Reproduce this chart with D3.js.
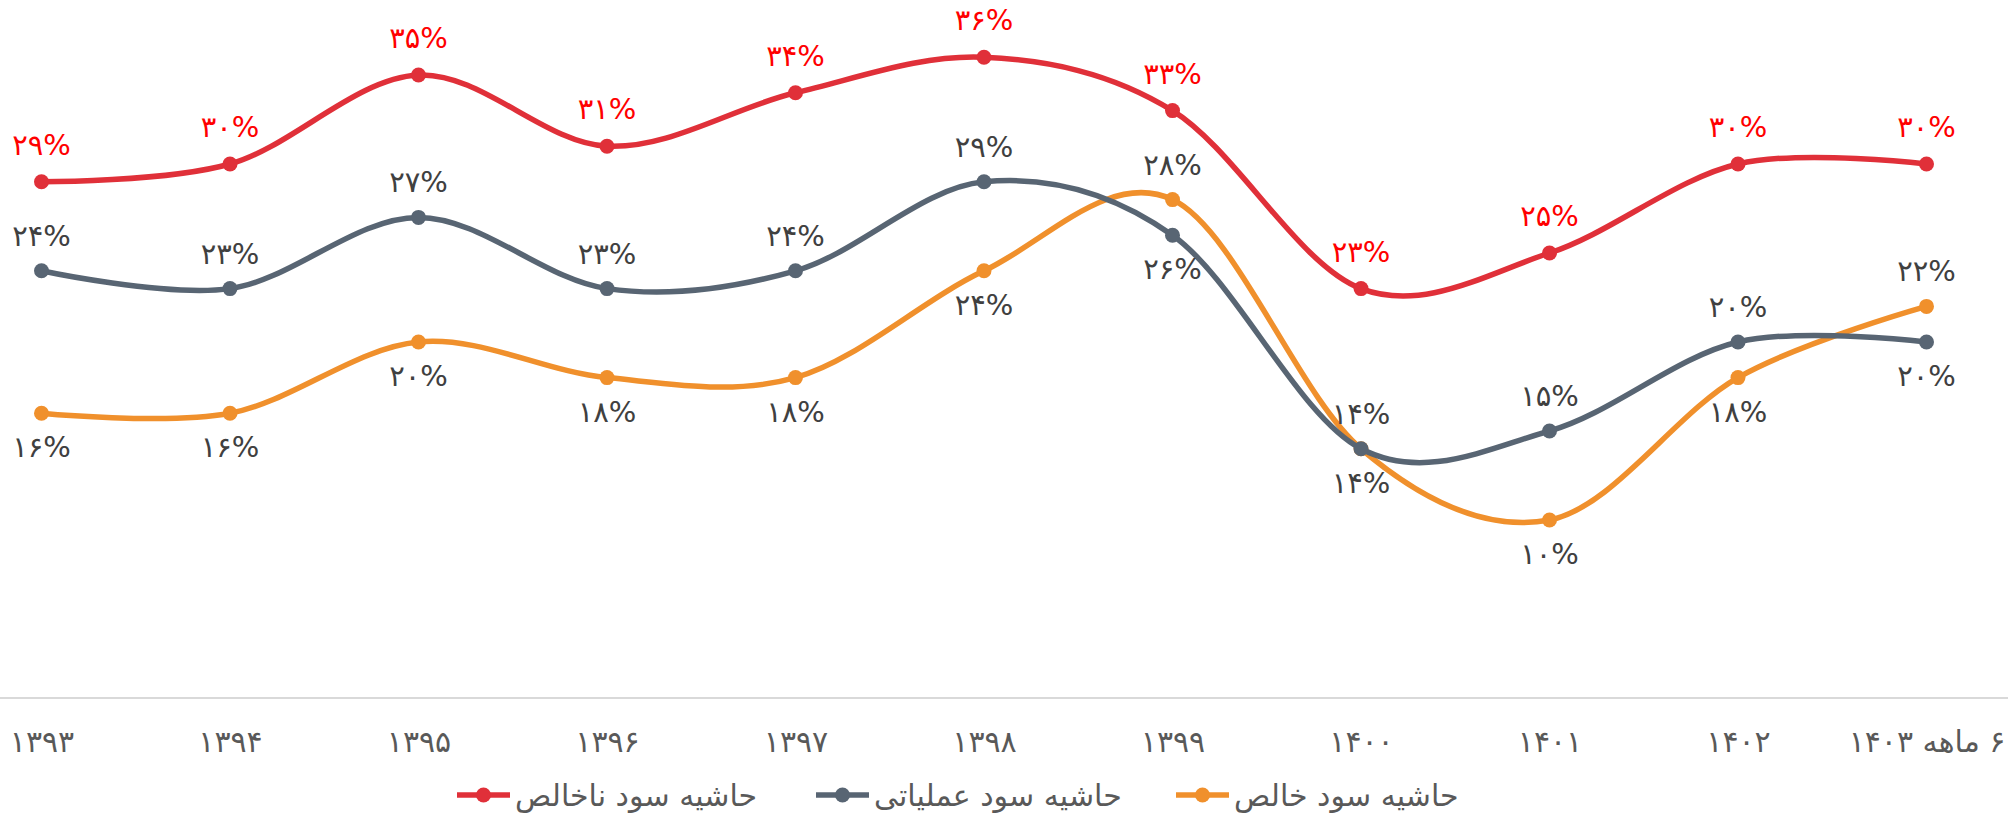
<!DOCTYPE html>
<html><head><meta charset="utf-8">
<script src="https://cdn.jsdelivr.net/npm/d3@7"></script>
<style>
html,body{margin:0;padding:0;background:#fff;}
svg{display:block;font-family:"DejaVu Sans",sans-serif;}
</style></head>
<body><svg id="c" width="2008" height="814"></svg>
<script>
const categories = ["۱۳۹۳","۱۳۹۴","۱۳۹۵","۱۳۹۶","۱۳۹۷","۱۳۹۸","۱۳۹۹","۱۴۰۰","۱۴۰۱","۱۴۰۲","۶ ماهه ۱۴۰۳"];
const grossMargin = [29,30,35,31,34,36,33,23,25,30,30];
const operatingMargin = [24,23,27,23,24,29,26,14,15,20,20];
const netMargin = [16,16,20,18,18,24,28,14,10,18,22];
const seriesNames = ["حاشیه سود ناخالص","حاشیه سود عملیاتی","حاشیه سود خالص"];

// label placement (presentation only)
const grossPos = ["a","a","a","a","a","a","a","a","a","a","a"];
const operPos  = ["a","a","a","a","a","a","b","a","a","a","b"];
const netPos   = ["b","b","b","b","b","b","a","b","b","b","a"];

const fa = n => String(n).replace(/\d/g, d => "۰۱۲۳۴۵۶۷۸۹"[d]) + "%";

const svg = d3.select("#c");
const x = d3.scalePoint().domain(categories).range([41.5, 1926.5]);
const y = d3.scaleLinear().domain([0, 40]).range([698, -14]);

svg.append("line").attr("x1",0).attr("x2",2008).attr("y1",698).attr("y2",698)
  .attr("stroke","#d9d9d9").attr("stroke-width",2);

const xAxis = d3.axisBottom(x).tickSize(0).tickPadding(0);
const gx = svg.append("g").attr("transform","translate(0,741)").call(xAxis);
gx.select(".domain").remove();
gx.selectAll("text").attr("font-size",30).attr("fill","#595959")
  .attr("font-family","DejaVu Sans, sans-serif").attr("dy","0.35em")
  .attr("direction","rtl").attr("text-anchor","middle");

const series = [
  {name: seriesNames[0], values: grossMargin, color:"#e03039", label:"#ff0000", pos: grossPos},
  {name: seriesNames[1], values: operatingMargin, color:"#586573", label:"#404040", pos: operPos},
  {name: seriesNames[2], values: netMargin, color:"#f0902c", label:"#404040", pos: netPos}
];

const line = d3.line().x((d,i)=>x(categories[i])).y(d=>y(d)).curve(d3.curveCatmullRom.alpha(0));

[series[2], series[1], series[0]].forEach(s => {
  const g = svg.append("g");
  g.append("path").datum(s.values).attr("d", line).attr("fill","none")
    .attr("stroke", s.color).attr("stroke-width",5.5).attr("stroke-linecap","round");
  g.selectAll("circle").data(s.values).join("circle")
    .attr("cx",(d,i)=>x(categories[i])).attr("cy",d=>y(d)).attr("r",7.5).attr("fill",s.color);
});

series.forEach((s, si) => {
  svg.append("g").selectAll("text").data(s.values).join("text")
    .attr("x",(d,i)=>x(categories[i]))
    .attr("y",(d,i)=> y(d) + (s.pos[i]==="a" ? (si===0 ? -37 : -35) : 34))
    .attr("dominant-baseline","central")
    .attr("text-anchor","middle").attr("font-size",29).attr("fill",s.label)
    .text(d=>fa(d));
});

// legend
const legendX = [457, 816, 1176];
series.forEach((s,i) => {
  const g = svg.append("g").attr("transform",`translate(${legendX[i]},795)`);
  g.append("line").attr("x1",0).attr("x2",53).attr("stroke",s.color).attr("stroke-width",5.5);
  g.append("circle").attr("cx",26.5).attr("r",7.5).attr("fill",s.color);
  g.append("text").attr("x",58).attr("dominant-baseline","central").attr("direction","rtl")
    .attr("text-anchor","end").attr("font-size",30).attr("fill","#595959").text(s.name);
});
</script></body></html>
